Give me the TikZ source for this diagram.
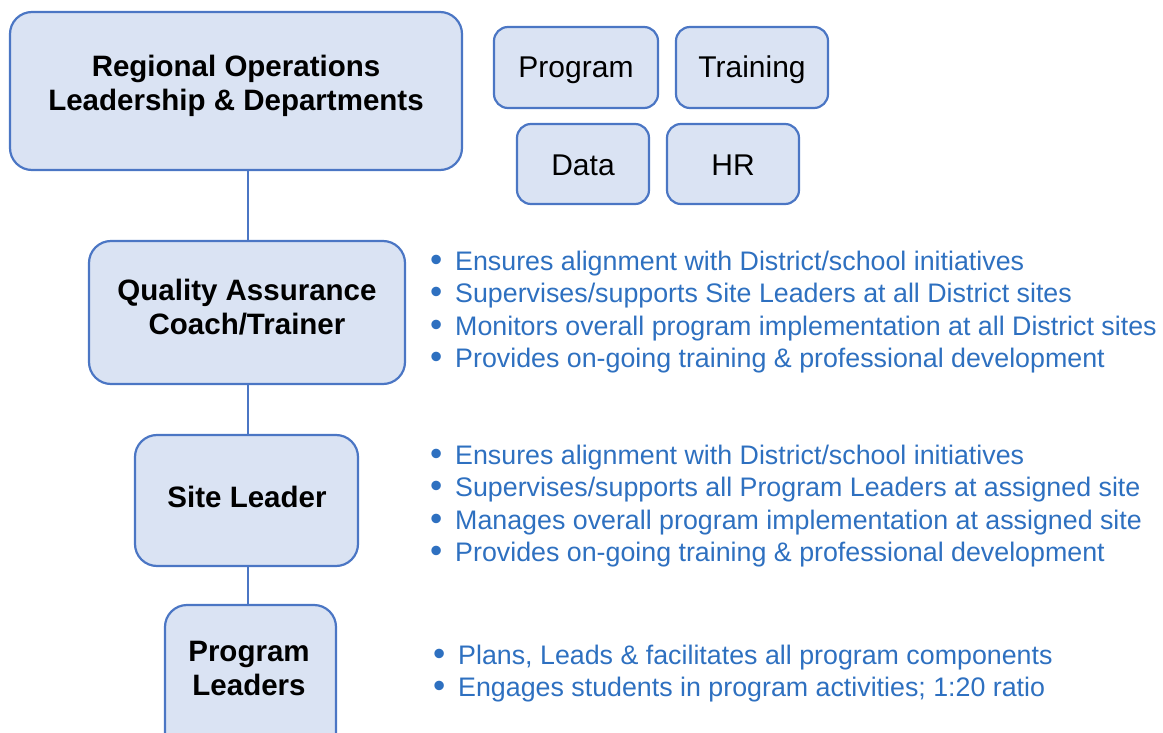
\documentclass[tikz,border=0pt]{standalone}
\usepackage{fontspec}
\setmainfont{Liberation Sans}
\definecolor{boxfill}{RGB}{218,227,243}
\definecolor{boxline}{RGB}{75,118,196}
\definecolor{listblue}{RGB}{46,112,192}
\tikzset{
  box/.style={draw=boxline, fill=boxfill, line width=2.2pt, rounded corners=22pt},
  sbox/.style={draw=boxline, fill=boxfill, line width=2.2pt, rounded corners=14pt},
  title/.style={font=\bfseries\fontsize{29.5}{34}\selectfont, align=center, inner sep=0pt},
  dept/.style={font=\fontsize{30}{30}\selectfont, inner sep=0pt},
  item/.style={font=\fontsize{26.8}{30}\selectfont, text=listblue, anchor=base west, inner sep=0pt},
  link/.style={draw=boxline, line width=2.2pt}
}
\newcommand{\bul}[1]{\makebox[25pt][l]{\raisebox{-1pt}{\scalebox{1.3}{\textbullet}}}#1}
\begin{document}
\begin{tikzpicture}[x=1pt,y=-1pt]
\useasboundingbox (0,0) rectangle (1163,733);
% boxes
\draw[box] (10,12) rectangle (462,170);
\node[title] (reg) at (236,86) {Regional Operations\\Leadership \& Departments};

\draw[sbox] (494,27) rectangle (658,108);
\node[dept] (prog) at (576,70) {Program};
\draw[sbox] (676,27) rectangle (828,108);
\node[dept] (train) at (752,70) {Training};
\draw[sbox] (517,124) rectangle (649,204);
\node[dept] (data) at (583,165) {Data};
\draw[sbox] (667,124) rectangle (799,204);
\node[dept] (hr) at (733,165) {HR};

\draw[box] (89,241) rectangle (405,384);
\node[title] (qa) at (247,307) {Quality Assurance\\Coach/Trainer};
\draw[box] (135,435) rectangle (358,566);
\node[title] (site) at (247,497) {Site Leader};
\draw[box] (165,605) rectangle (336,760);
\node[title] (pl) at (249,668) {Program\\Leaders};

% connectors
\coordinate (c1a) at (248,170);
\coordinate (c1b) at (248,241);
\coordinate (c2a) at (248,384);
\coordinate (c2b) at (248,435);
\coordinate (c3a) at (248,566);
\coordinate (c3b) at (248,605);
\draw[link] (c1a) -- (c1b);
\draw[link] (c2a) -- (c2b);
\draw[link] (c3a) -- (c3b);

% lists
\node[item] (q1) at (430,270) {\bul{Ensures alignment with District/school initiatives}};
\node[item] (q2) at (430,302.5) {\bul{Supervises/supports Site Leaders at all District sites}};
\node[item] (q3) at (430,335) {\bul{Monitors overall program implementation at all District sites}};
\node[item] (q4) at (430,367.5) {\bul{Provides on-going training \& professional development}};

\node[item] (s1) at (430,464) {\bul{Ensures alignment with District/school initiatives}};
\node[item] (s2) at (430,496.5) {\bul{Supervises/supports all Program Leaders at assigned site}};
\node[item] (s3) at (430,529) {\bul{Manages overall program implementation at assigned site}};
\node[item] (s4) at (430,561.5) {\bul{Provides on-going training \& professional development}};

\node[item] (p1) at (433,664) {\bul{Plans, Leads \& facilitates all program components}};
\node[item] (p2) at (433,696.5) {\bul{Engages students in program activities; 1:20 ratio}};
\end{tikzpicture}
\end{document}
